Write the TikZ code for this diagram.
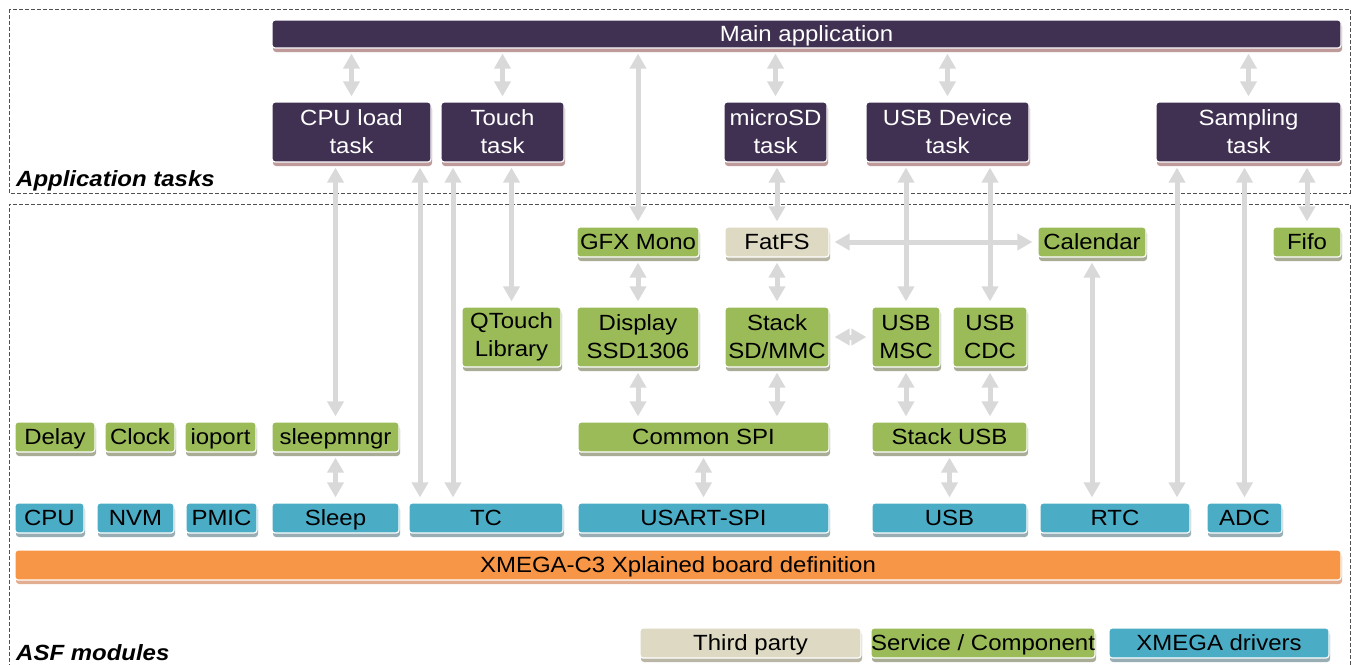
\documentclass[tikz,border=0pt]{standalone}
\usepackage{fontspec}
\setmainfont[FakeStretch=1.09]{Liberation Sans}
\usepackage{xcolor}
\usetikzlibrary{arrows.meta,shadows,positioning}
\definecolor{taskc}{HTML}{403152}
\definecolor{svcc}{HTML}{9BBB59}
\definecolor{drvc}{HTML}{4BACC6}
\definecolor{thirdc}{HTML}{DDD9C3}
\definecolor{boardc}{HTML}{F79646}
\definecolor{linkc}{HTML}{D9D9D9}
\definecolor{taskshd}{HTML}{BE9A9A}
\definecolor{svcshd}{HTML}{A9AD96}
\definecolor{drvshd}{HTML}{98ADB4}
\definecolor{thirdshd}{HTML}{B9B6A6}
\definecolor{boardshd}{HTML}{E2AE92}
\definecolor{framec}{HTML}{505050}

\begin{document}
\begin{tikzpicture}[x=1pt,y=-1pt,
	box/.style={rounded corners=3pt,draw=white,line width=1.2pt,inner sep=0pt,align=center,font=\fontsize{22}{28}\selectfont},
	one/.style={text height=15.75pt,text depth=0pt},
	taskbox/.style={box,fill=taskc,text=white,minimum height=60pt,drop shadow={shadow xshift=1pt,shadow yshift=-4pt,fill=taskshd,opacity=1}},
	svcbox/.style={box,fill=svcc,minimum height=30pt,drop shadow={shadow xshift=1pt,shadow yshift=-4pt,fill=svcshd,opacity=1}},
	svc/.style={svcbox,one},
	drv/.style={box,one,fill=drvc,minimum height=30pt,drop shadow={shadow xshift=1pt,shadow yshift=-4pt,fill=drvshd,opacity=1}},
	third/.style={box,one,fill=thirdc,minimum height=30pt,drop shadow={shadow xshift=1pt,shadow yshift=-4pt,fill=thirdshd,opacity=1}},
	board/.style={box,one,fill=boardc,minimum height=30pt,drop shadow={shadow xshift=1pt,shadow yshift=-4pt,fill=boardshd,opacity=1}},
	lbl/.style={one,anchor=west,inner sep=0pt,font=\fontsize{22}{26}\selectfont\bfseries\itshape},
	frame/.style={draw=framec,line width=0.8pt,dash pattern=on 4pt off 2pt},
	tip/.tip={Triangle[width=16pt,length=15pt]},
	link/.style={tip-tip,draw=linkc,line width=5pt,shorten >=5pt,shorten <=5pt}]
	\useasboundingbox (0,0) rectangle (1354,664);

	% frames
	\draw[frame] (9,9) rectangle (1350,193);
	\draw[frame] (9,668) -- (9,204) -- (1350,204) -- (1350,668);
	\node[lbl] (apptasks) at (16,179) {Application tasks};
	\node[lbl] (asfmod) at (16,653) {ASF modules};

	% application
	\node[taskbox,one,minimum width=1069pt,minimum height=28pt] (mainapp) at (806.5,34) {Main application};
	\node[taskbox,minimum width=159pt] (cpuT) at (351.5,132) {CPU load\\task};
	\node[taskbox,minimum width=123pt] (touchT) at (502.5,132) {Touch\\task};
	\node[taskbox,minimum width=103pt] (sdT) at (775.5,132) {microSD\\task};
	\node[taskbox,minimum width=163pt] (usbT) at (947.5,132) {USB Device\\task};
	\node[taskbox,minimum width=185pt] (sampT) at (1248.5,132) {Sampling\\task};

	% services
	\node[svc,minimum width=122pt] (gfx) at (638,242) {GFX Mono};
	\node[third,minimum width=104pt] (fatfs) at (777,242) {FatFS};
	\node[svc,minimum width=108pt] (cal) at (1092,242) {Calendar};
	\node[svc,minimum width=68pt] (fifo) at (1307,242) {Fifo};

	\node[svcbox,minimum width=99pt,minimum height=60pt] (qtouch) at (511.5,337) {QTouch\\Library};
	\node[svcbox,minimum width=122pt,minimum height=60pt] (display) at (638,337) {Display\\SSD1306};
	\node[svcbox,minimum width=104pt,minimum height=60pt] (sdmmc) at (777,337) {Stack\\SD/MMC};
	\node[svcbox,minimum width=68pt,minimum height=60pt] (msc) at (906,337) {USB\\MSC};
	\node[svcbox,minimum width=74pt,minimum height=60pt] (cdc) at (990,337) {USB\\CDC};

	\node[svc,minimum width=80pt] (delay) at (55,437) {Delay};
	\node[svc,minimum width=70pt] (clock) at (140,437) {Clock};
	\node[svc,minimum width=71pt] (ioport) at (220.5,437) {ioport};
	\node[svc,minimum width=127pt] (sleepmgr) at (335.5,437) {sleepmngr};
	\node[svc,minimum width=251pt] (spi) at (703.5,437) {Common SPI};
	\node[svc,minimum width=155pt] (stackusb) at (949.5,437) {Stack USB};

	% drivers
	\node[drv,minimum width=69pt] (cpu) at (49.5,518) {CPU};
	\node[drv,minimum width=77pt] (nvm) at (135.5,518) {NVM};
	\node[drv,minimum width=71pt] (pmic) at (221.5,518) {PMIC};
	\node[drv,minimum width=127pt] (sleep) at (335.5,518) {Sleep};
	\node[drv,minimum width=154pt] (tc) at (486,518) {TC};
	\node[drv,minimum width=251pt] (usart) at (703.5,518) {USART-SPI};
	\node[drv,minimum width=155pt] (usb) at (949.5,518) {USB};
	\node[drv,minimum width=150pt] (rtc) at (1115,518) {RTC};
	\node[drv,minimum width=75pt] (adc) at (1244.5,518) {ADC};

	\node[board,minimum width=1326pt] (xboard) at (678,565) {XMEGA-C3 Xplained board definition};

	% legend
	\node[third,minimum width=221pt] (lthird) at (750.5,643) {Third party};
	\node[svc,minimum width=224pt] (lsvc) at (983,643) {Service / Component};
	\node[drv,minimum width=220pt] (ldrv) at (1219,643) {XMEGA drivers};

	% connectors
	\coordinate (tcA) at (420,0);
	\coordinate (tcB) at (453,0);
	\coordinate (rtcA) at (1177,0);
	\draw[link] (cpuT.north |- mainapp.south) -- (cpuT.north);
	\draw[link] (touchT.north |- mainapp.south) -- (touchT.north);
	\draw[link] (gfx.north |- mainapp.south) -- (gfx.north);
	\draw[link] (sdT.north |- mainapp.south) -- (sdT.north);
	\draw[link] (usbT.north |- mainapp.south) -- (usbT.north);
	\draw[link] (sampT.north |- mainapp.south) -- (sampT.north);
	\draw[link] (sleepmgr.north |- cpuT.south) -- (sleepmgr.north);
	\draw[link] (tcA |- cpuT.south) -- (tcA |- tc.north);
	\draw[link] (tcB |- touchT.south) -- (tcB |- tc.north);
	\draw[link] (qtouch.north |- touchT.south) -- (qtouch.north);
	\draw[link] (sleepmgr.south) -- (sleep.north);
	\draw[link] (gfx.south) -- (display.north);
	\draw[link] (display.south) -- (display.south |- spi.north);
	\draw[link] (spi.south) -- (usart.north);
	\draw[link] (fatfs.north |- sdT.south) -- (fatfs.north);
	\draw[link] (fatfs.south) -- (sdmmc.north);
	\draw[link] (sdmmc.south) -- (sdmmc.south |- spi.north);
	\draw[link] (fatfs.east) -- (cal.west);
	\draw[link] (sdmmc.east) -- (msc.west);
	\draw[link] (msc.north |- usbT.south) -- (msc.north);
	\draw[link] (cdc.north |- usbT.south) -- (cdc.north);
	\draw[link] (msc.south) -- (msc.south |- stackusb.north);
	\draw[link] (cdc.south) -- (cdc.south |- stackusb.north);
	\draw[link] (stackusb.south) -- (usb.north);
	\draw[link] (cal.south) -- (cal.south |- rtc.north);
	\draw[link] (rtcA |- sampT.south) -- (rtcA |- rtc.north);
	\draw[link] (adc.north |- sampT.south) -- (adc.north);
	\draw[link] (fifo.north |- sampT.south) -- (fifo.north);
\end{tikzpicture}
\end{document}
